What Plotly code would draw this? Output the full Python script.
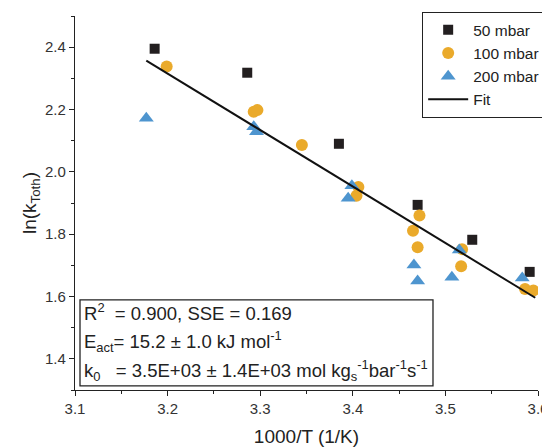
import plotly.graph_objects as go

# 50 mbar
x50 = [3.186, 3.286, 3.385, 3.470, 3.529, 3.591]
y50 = [2.395, 2.318, 2.090, 1.894, 1.782, 1.679]
# 100 mbar
x100 = [3.199, 3.293, 3.297, 3.345, 3.406, 3.404, 3.472, 3.465, 3.470, 3.518, 3.517, 3.586, 3.595]
y100 = [2.338, 2.193, 2.198, 2.086, 1.951, 1.923, 1.860, 1.811, 1.758, 1.752, 1.697, 1.624, 1.619]
# 200 mbar
x200 = [3.177, 3.293, 3.296, 3.399, 3.395, 3.466, 3.470, 3.515, 3.507, 3.583]
y200 = [2.172, 2.145, 2.129, 1.955, 1.915, 1.701, 1.650, 1.749, 1.662, 1.659]
# Fit
xfit = [3.177, 3.597]
yfit = [2.357, 1.596]

xticks = [3.1, 3.2, 3.3, 3.4, 3.5, 3.6]
yticks = [1.4, 1.6, 1.8, 2.0, 2.2, 2.4]

FONT = "Liberation Sans, Arial, sans-serif"

fig = go.Figure()
fig.add_trace(go.Scatter(x=x50, y=y50, mode="markers", name="50 mbar",
                         marker=dict(symbol="square", size=10, color="#231F20")))
fig.add_trace(go.Scatter(x=x100, y=y100, mode="markers", name="100 mbar",
                         marker=dict(symbol="circle", size=12, color="#EAAA2B")))
fig.add_trace(go.Scatter(x=x200, y=y200, mode="markers", name="200 mbar",
                         marker=dict(symbol="triangle-up", size=13, color="#4E95CF")))
fig.add_trace(go.Scatter(x=xfit, y=yfit, mode="lines", name="Fit",
                         line=dict(color="#111111", width=2)))

axis_common = dict(showline=True, linecolor="#222222", linewidth=1.3, mirror=False,
                   ticks="outside", ticklen=5, tickwidth=1.2, tickcolor="#222222",
                   showgrid=False, zeroline=False, automargin=False,
                   tickfont=dict(family=FONT, size=15, color="#333333"))

fig.update_xaxes(range=[3.1, 3.6], tickvals=xticks, ticktext=[f"{v:.1f}" for v in xticks],
                 minor=dict(ticks="outside", ticklen=3, tickcolor="#222222", dtick=0.05, tick0=3.1),
                 title=dict(text="1000/T (1/K)", font=dict(family=FONT, size=19, color="#222222"), standoff=14),
                 **axis_common)
fig.update_yaxes(range=[1.3, 2.5], tickvals=yticks, ticktext=[f"{v:.1f}" for v in yticks],
                 minor=dict(ticks="outside", ticklen=3, tickcolor="#222222", dtick=0.1, tick0=1.3),
                 title=dict(text="ln(k<sub>Toth</sub>)", font=dict(family=FONT, size=19, color="#222222"), standoff=3),
                 **axis_common)

# annotation box
fig.add_shape(type="rect", xref="x", yref="y", x0=3.1054, x1=3.4866, y0=1.313, y1=1.589,
              line=dict(color="#222222", width=1.3), fillcolor="white", layer="below")
lines = [
    ("R<sup>2</sup>  = 0.900, SSE = 0.169", 1.550),
    ("E<sub>act</sub>= 15.2 ± 1.0 kJ mol<sup>-1</sup>", 1.457),
    ("k<sub>0</sub>   = 3.5E+03 ± 1.4E+03 mol kg<sub>s</sub><sup>-1</sup>bar<sup>-1</sup>s<sup>-1</sup>", 1.364),
]
for txt, yy in lines:
    fig.add_annotation(x=3.1076, y=yy, xref="x", yref="y", text=txt, showarrow=False,
                       xanchor="left", yanchor="middle",
                       font=dict(family=FONT, size=18.5, color="#222222"))

# the page places the figure 8px from the top-left corner of the window
fig.update_layout(
    width=542, height=439,
    margin=dict(l=67, r=12, t=8, b=57, autoexpand=False),
    paper_bgcolor="white", plot_bgcolor="white",
    showlegend=True,
    legend=dict(x=1.017, y=1.0107, xanchor="right", yanchor="top",
                bordercolor="#222222", borderwidth=1.3, bgcolor="white",
                font=dict(family=FONT, size=15.5, color="#222222"),
                itemwidth=40, tracegroupgap=0),
)

fig.write_html("out.html")
